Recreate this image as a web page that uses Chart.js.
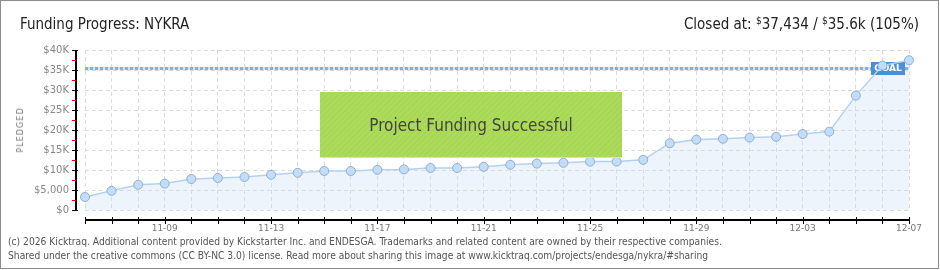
<!DOCTYPE html>
<html>
<head>
<meta charset="utf-8">
<script src="https://cdn.jsdelivr.net/npm/chart.js@4/dist/chart.umd.min.js"></script>
<style>
  body { margin: 0; background: #fff; }
  #wrap { position: relative; width: 940px; height: 270px; overflow: hidden; font-family: "DejaVu Sans Condensed", "DejaVu Sans", sans-serif; }
  #frame { position: absolute; left: 0; top: 0; width: 939px; height: 269px; border: 1px solid #8c8c8c; box-sizing: border-box; pointer-events: none; }
  canvas { position: absolute; left: 0; top: 0; }
  .t { position: absolute; white-space: nowrap; color: #222; }
  #title { left: 20px; top: 15px; font-size: 15px; }
  #closed { right: 21px; top: 15px; font-size: 15px; }
  #closed sup { font-size: 10px; vertical-align: 5px; }
  #pledged { left: 20px; top: 130px; font-size: 9px; color: #777; letter-spacing: 1px; transform: translate(-50%, -50%) rotate(-90deg); }
  #success { position: absolute; left: 320px; top: 92px; width: 302px; height: 66px;
    background: repeating-linear-gradient(135deg, rgba(166,217,79,0.93) 0 2px, rgba(160,212,72,0.93) 2px 4px);
    border-bottom: 1px solid #d6e9a8; box-sizing: border-box;
    display: flex; align-items: center; justify-content: center; font-size: 17px; color: #444; }
  .foot { left: 8px; font-size: 10.2px; color: #555; }
</style>
</head>
<body>
<div id="wrap">
  <canvas id="c" width="940" height="270"></canvas>
  <div id="success">Project Funding Successful</div>
  <div class="t" id="title">Funding Progress: NYKRA</div>
  <div class="t" id="closed">Closed at: <sup>$</sup>37,434 / <sup>$</sup>35.6k (105%)</div>
  <div class="t" id="pledged">PLEDGED</div>
  <div class="t foot" style="top:236px">(c) 2026 Kicktraq. Additional content provided by Kickstarter Inc. and ENDESGA. Trademarks and related content are owned by their respective companies.</div>
  <div class="t foot" style="top:250px">Shared under the creative commons (CC BY-NC 3.0) license. Read more about sharing this image at www.kicktraq.com/projects/endesga/nykra/#sharing</div>
  <div id="frame"></div>
</div>
<script>
const days = ['11-06','11-07','11-08','11-09','11-10','11-11','11-12','11-13','11-14','11-15',
              '11-16','11-17','11-18','11-19','11-20','11-21','11-22','11-23','11-24','11-25',
              '11-26','11-27','11-28','11-29','11-30','12-01','12-02','12-03','12-04','12-05',
              '12-06','12-07'];
const pledged = [3250, 4800, 6300, 6600, 7750, 8000, 8250, 8800, 9300, 9750,
                 9750, 10050, 10150, 10500, 10500, 10800, 11300, 11600, 11800, 12100,
                 12100, 12550, 16700, 17600, 17800, 18100, 18300, 19000, 19600, 28600,
                 36100, 37434];
const shownDays = ['11-09','11-13','11-17','11-21','11-25','11-29','12-03','12-07'];
const yTickValues = [0, 5000, 10000, 15000, 20000, 25000, 30000, 35000, 40000];
const yTickLabels = ['$0','$5,000','$10K','$15K','$20K','$25K','$30K','$35K','$40K'];
const goal = 35600;

// axes drawn kicktraq style: offset x axis, red minor ticks on y
const axesPlugin = {
  id: 'axes',
  beforeDatasetsDraw(chart) {
    const ctx = chart.ctx, a = chart.chartArea, y = chart.scales.y;
    const gy = Math.round(y.getPixelForValue(goal)) + 0.5;
    ctx.save();
    ctx.strokeStyle = '#d3e3f5';
    ctx.lineWidth = 3;
    ctx.beginPath(); ctx.moveTo(a.left, gy); ctx.lineTo(a.right, gy); ctx.stroke();
    ctx.strokeStyle = '#80b1e3';
    ctx.setLineDash([3, 2]);
    ctx.beginPath(); ctx.moveTo(a.left, gy); ctx.lineTo(a.right, gy); ctx.stroke();
    ctx.setLineDash([]);
    // goal tag
    ctx.fillStyle = '#4a8fd8';
    ctx.fillRect(a.right - 38, gy - 6.5, 34, 13);
    ctx.fillStyle = '#fff';
    ctx.font = 'bold 9px "DejaVu Sans"';
    ctx.textAlign = 'center';
    ctx.textBaseline = 'middle';
    ctx.fillText('GOAL', a.right - 21, gy + 0.5);
    ctx.restore();
  },
  afterDraw(chart) {
    const ctx = chart.ctx, a = chart.chartArea, x = chart.scales.x, y = chart.scales.y;
    ctx.save();
    ctx.lineWidth = 2;
    ctx.strokeStyle = '#000';
    const ax = a.left - 9;
    ctx.beginPath(); ctx.moveTo(ax, a.top); ctx.lineTo(ax, a.bottom + 1); ctx.stroke();
    ctx.lineWidth = 1;
    for (let v = 0; v <= 40000; v += 2500) {
      const py = Math.round(y.getPixelForValue(v)) + 0.5;
      const major = v % 5000 === 0;
      ctx.strokeStyle = major ? '#000' : '#e00000';
      ctx.beginPath(); ctx.moveTo(ax - 4, py); ctx.lineTo(ax + (major ? 2 : 0), py); ctx.stroke();
    }
    const by = a.bottom + 10;
    ctx.lineWidth = 2;
    ctx.strokeStyle = '#000';
    ctx.beginPath(); ctx.moveTo(a.left, by); ctx.lineTo(a.right, by); ctx.stroke();
    ctx.lineWidth = 1;
    days.forEach((d, i) => {
      const px = Math.round(x.getPixelForValue(i)) + 0.5;
      ctx.beginPath(); ctx.moveTo(px, by - 3); ctx.lineTo(px, by + 4); ctx.stroke();
    });
    ctx.restore();
  }
};

new Chart(document.getElementById('c'), {
  type: 'line',
  data: {
    labels: days,
    datasets: [{
      data: pledged,
      borderColor: '#b3d2f1',
      borderWidth: 1.5,
      backgroundColor: '#edf4fc',
      fill: 'origin',
      tension: 0,
      pointRadius: 4.5,
      pointBackgroundColor: '#c4ddf6',
      pointBorderColor: '#8eafd6',
      pointBorderWidth: 1
    }]
  },
  options: {
    responsive: false,
    animation: false,
    layout: { padding: { left: 0, right: 31, top: 50, bottom: 0 } },
    plugins: {
      legend: { display: false },
      tooltip: { enabled: false },
      filler: { drawTime: 'beforeDraw' }
    },
    scales: {
      x: {
        offset: false,
        afterFit(s) { s.height = 60; },
        grid: { color: '#dcdcdc', drawTicks: false },
        border: { display: false, dash: [4, 3] },
        ticks: {
          autoSkip: false, maxRotation: 0, padding: 13,
          color: '#777', font: { family: '"DejaVu Sans"', size: 9 },
          callback: (v, i) => shownDays.includes(days[i]) ? days[i] : ''
        }
      },
      y: {
        min: 0, max: 40000,
        afterFit(s) { s.width = 85; },
        afterBuildTicks(s) { s.ticks = yTickValues.map(v => ({ value: v })); },
        grid: { color: '#dcdcdc', drawTicks: false },
        border: { display: false, dash: [4, 3] },
        ticks: {
          padding: 16,
          color: '#888', font: { family: '"DejaVu Sans"', size: 10 },
          callback: v => yTickLabels[yTickValues.indexOf(v)]
        }
      }
    }
  },
  plugins: [axesPlugin]
});
</script>
</body>
</html>
